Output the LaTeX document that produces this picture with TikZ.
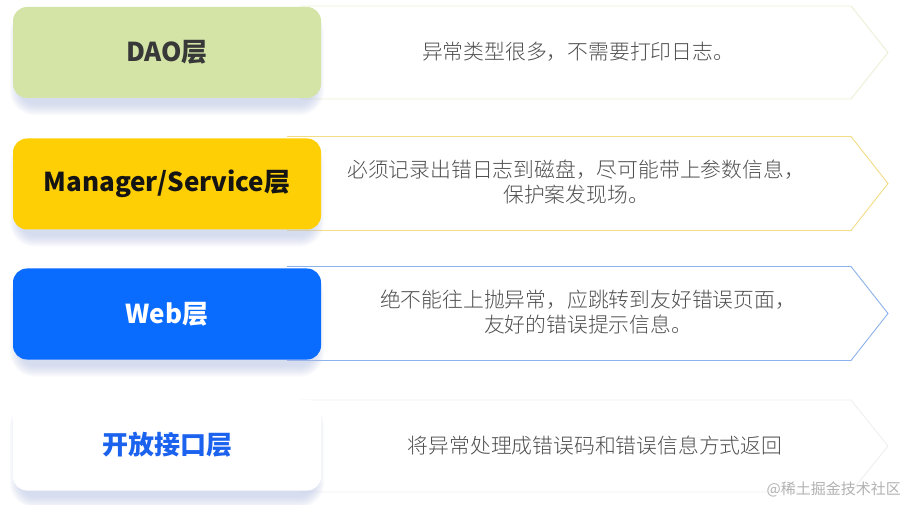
\documentclass[tikz,border=0pt]{standalone}
\usepackage{fontspec}
\setmainfont{Noto Sans CJK SC}
\newfontfamily\cjk{Noto Sans CJK SC}
\newfontfamily\cjklight{Noto Sans CJK SC}[UprightFont=* Light]
\definecolor{daogreen}{HTML}{D3E4A6}
\definecolor{mgryellow}{HTML}{FFCF06}
\definecolor{webblue}{HTML}{0A6CFF}
\definecolor{openblue}{HTML}{1B62EE}
\definecolor{desctext}{HTML}{4F4F4F}
\definecolor{edgeA}{HTML}{ECF0D6}
\definecolor{edgeB}{HTML}{F3DC86}
\definecolor{edgeC}{HTML}{8CB2EC}
\definecolor{edgeD}{HTML}{EEEFF2}
\definecolor{shadowc}{HTML}{B8C4E6}
\tikzset{
  layerbox/.style={rounded corners=14pt, minimum width=308pt, minimum height=91pt,
    inner sep=0pt, font=\cjk\fontsize{26}{30}\selectfont\bfseries},
  arrowshape/.style={fill=white, line width=0.9pt},
  desc/.style={font=\cjklight\fontsize{20.8}{25.5}\selectfont, text=desctext, align=center, inner sep=0pt},
  softshadow/.style={fill=shadowc, opacity=0.06},
}
\newcommand\boxshadow[1]{%
  \foreach \i in {0,...,11}{%
    \fill[softshadow, rounded corners=14pt+\i pt]
      ([xshift=8pt-\i pt, yshift=-13pt+\i pt]#1.north west) rectangle
      ([xshift=-8pt+\i pt, yshift=-6pt-\i pt]#1.south east);
  }}
\begin{document}
\begin{tikzpicture}[x=1pt, y=-1pt]
\useasboundingbox[fill=white] (0,0) rectangle (908,505);
% arrows
\draw[arrowshape, draw=edgeA] (300,6) -- (851,6) -- (888,52.5) -- (851,99) -- (300,99);
\draw[arrowshape, draw=edgeB] (287,136.5) -- (851,136.5) -- (888,183.5) -- (851,230.5) -- (287,230.5);
\draw[arrowshape, draw=edgeC] (287,266.5) -- (851,266.5) -- (888,313.5) -- (851,360.5) -- (287,360.5);
\draw[arrowshape, draw=edgeD] (300,400) -- (851,400) -- (888,446) -- (851,492) -- (300,492);
% layer box positions
\coordinate (c1) at (167,52.5);
\coordinate (c2) at (167,184);
\coordinate (c3) at (167,314);
\coordinate (c4) at (167,445);
\path (c1) node[layerbox] (s1) {} (c2) node[layerbox] (s2) {}
      (c3) node[layerbox] (s3) {} (c4) node[layerbox] (s4) {};
\boxshadow{s1}\boxshadow{s2}\boxshadow{s3}\boxshadow{s4}
% layer boxes
\node[layerbox, fill=daogreen, text=black!78] (l1) at (c1) {DAO层};
\node[layerbox, fill=mgryellow, text=black!92] (l2) at (c2) {Manager/Service层};
\node[layerbox, fill=webblue, text=white] (l3) at (c3) {Web层};
\node[layerbox, fill=white, text=openblue] (l4) at (c4) {开放接口层};
% descriptions
\node[desc] (d1) at (578,52) {异常类型很多，不需要打印日志。};
\node[desc] (d2) at (576,182) {必须记录出错日志到磁盘，尽可能带上参数信息，\\保护案发现场。};
\node[desc] (d3) at (588,312) {绝不能往上抛异常，应跳转到友好错误页面，\\友好的错误提示信息。};
\node[desc] (d4) at (595,446) {将异常处理成错误码和错误信息方式返回};
\node[font=\cjk\fontsize{15}{18}\selectfont, text=black!30, anchor=east, inner sep=0pt] (wm) at (901,489) {@稀土掘金技术社区};
\end{tikzpicture}
\end{document}
